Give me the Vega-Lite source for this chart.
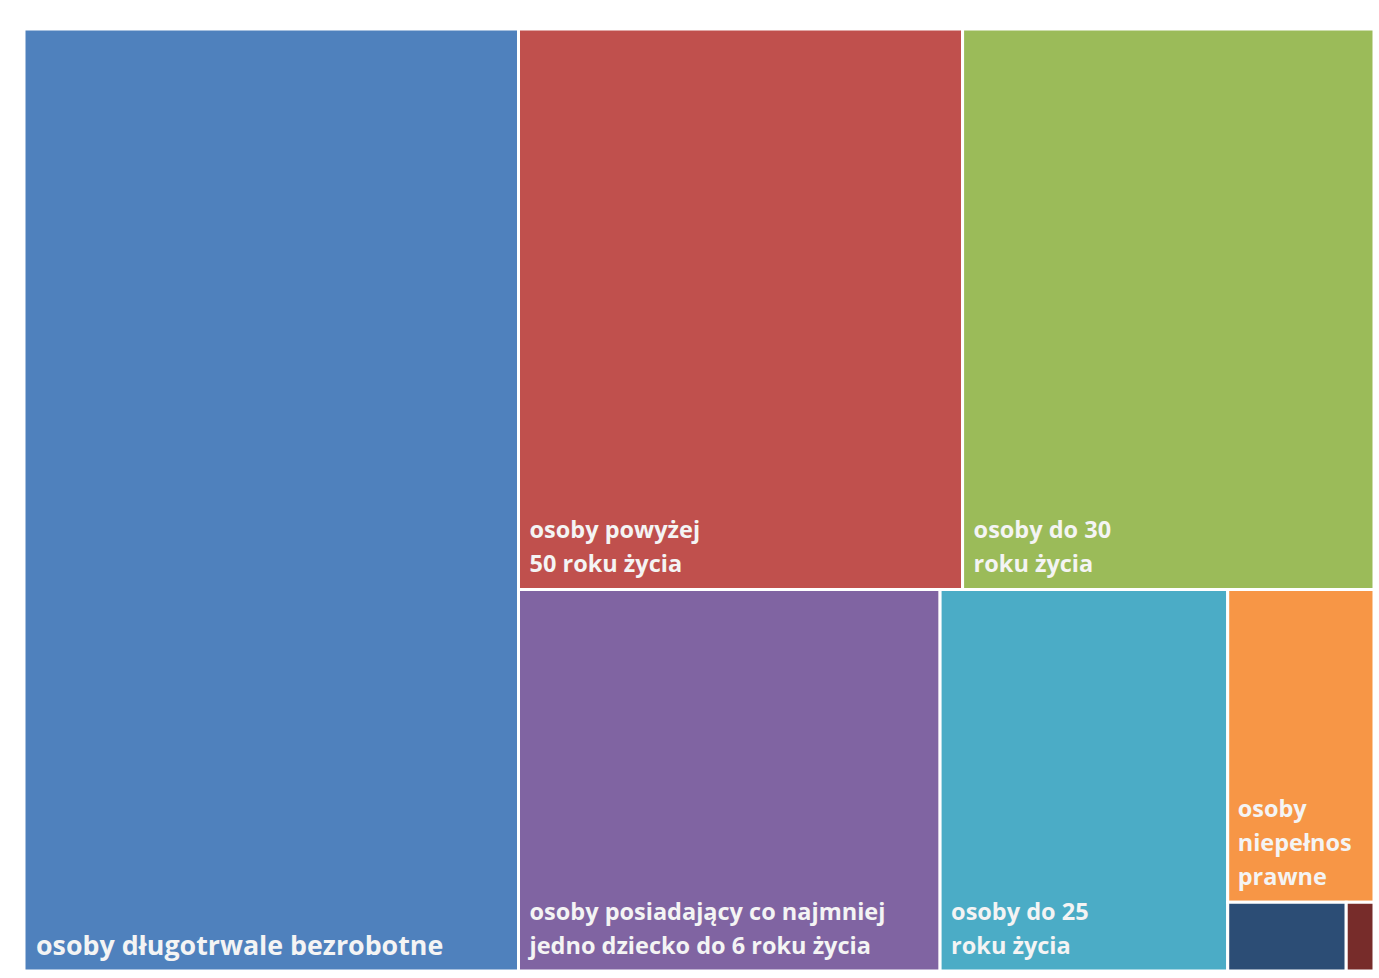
{
  "$schema": "https://vega.github.io/schema/vega-lite/v6.json",
  "width": 1350,
  "height": 942,
  "autosize": "none",
  "padding": {"left": 24, "top": 29, "right": 5, "bottom": 7},
  "background": "white",
  "config": {"view": {"stroke": null}},
  "data": {
    "values": [
      {"ord": 1, "name": "osoby długotrwale bezrobotne", "label": "osoby długotrwale bezrobotne", "lines": 1, "value": 366.3, "k1": "A", "k2": "a", "k3": "a", "k4": "a"},
      {"ord": 2, "name": "osoby powyżej 50 roku życia", "label": "osoby powyżej\n50 roku życia", "lines": 2, "value": 195.7, "k1": "B", "k2": "T", "k3": "p50", "k4": "a"},
      {"ord": 3, "name": "osoby do 30 roku życia", "label": "osoby do 30\nroku życia", "lines": 2, "value": 181.3, "k1": "B", "k2": "T", "k3": "d30", "k4": "a"},
      {"ord": 4, "name": "osoby posiadający co najmniej jedno dziecko do 6 roku życia", "label": "osoby posiadający co najmniej\njedno dziecko do 6 roku życia", "lines": 2, "value": 126.5, "k1": "B", "k2": "D", "k3": "pos", "k4": "a"},
      {"ord": 5, "name": "osoby do 25 roku życia", "label": "osoby do 25\nroku życia", "lines": 2, "value": 86.3, "k1": "B", "k2": "D", "k3": "d25", "k4": "a"},
      {"ord": 6, "name": "osoby niepełnosprawne", "label": "osoby\nniepełnos\nprawne", "lines": 3, "value": 36.0, "k1": "B", "k2": "D", "k3": "S", "k4": "n"},
      {"ord": 7, "name": "inne 1", "label": "", "lines": 0, "value": 6.4, "k1": "B", "k2": "D", "k3": "S", "k4": "U"},
      {"ord": 8, "name": "inne 2", "label": "", "lines": 0, "value": 1.5, "k1": "B", "k2": "D", "k3": "S", "k4": "U"}
    ]
  },
  "transform": [
    {"stack": "value", "groupby": [], "sort": [{"field": "ord"}], "offset": "normalize", "as": ["s1r", "e1r"]},
    {"joinaggregate": [{"op": "min", "field": "s1r", "as": "s1"}, {"op": "max", "field": "e1r", "as": "e1"}], "groupby": ["k1"]},
    {"stack": "value", "groupby": ["k1"], "sort": [{"field": "ord"}], "offset": "normalize", "as": ["s2r", "e2r"]},
    {"joinaggregate": [{"op": "min", "field": "s2r", "as": "s2"}, {"op": "max", "field": "e2r", "as": "e2"}], "groupby": ["k1", "k2"]},
    {"stack": "value", "groupby": ["k1", "k2"], "sort": [{"field": "ord"}], "offset": "normalize", "as": ["s3r", "e3r"]},
    {"joinaggregate": [{"op": "min", "field": "s3r", "as": "s3"}, {"op": "max", "field": "e3r", "as": "e3"}], "groupby": ["k1", "k2", "k3"]},
    {"stack": "value", "groupby": ["k1", "k2", "k3"], "sort": [{"field": "ord"}], "offset": "normalize", "as": ["s4r", "e4r"]},
    {"joinaggregate": [{"op": "min", "field": "s4r", "as": "s4"}, {"op": "max", "field": "e4r", "as": "e4"}], "groupby": ["k1", "k2", "k3", "k4"]},
    {"stack": "value", "groupby": ["k1", "k2", "k3", "k4"], "sort": [{"field": "ord"}], "offset": "normalize", "as": ["s5", "e5"]},
    {"calculate": "datum.s1 + (datum.e1 - datum.s1) * (datum.s3 + (datum.e3 - datum.s3) * datum.s5)", "as": "x0"},
    {"calculate": "datum.s1 + (datum.e1 - datum.s1) * (datum.s3 + (datum.e3 - datum.s3) * datum.e5)", "as": "x1"},
    {"calculate": "datum.s2 + (datum.e2 - datum.s2) * datum.s4", "as": "y0"},
    {"calculate": "datum.s2 + (datum.e2 - datum.s2) * datum.e4", "as": "y1"}
  ],
  "encoding": {
    "x": {"field": "x0", "type": "quantitative", "scale": {"domain": [0, 1], "nice": false, "zero": false}, "axis": null},
    "y": {"field": "y0", "type": "quantitative", "scale": {"domain": [0, 1], "nice": false, "zero": false, "reverse": true}, "axis": null}
  },
  "layer": [
    {
      "mark": {"type": "rect", "stroke": "white", "strokeWidth": 3},
      "encoding": {
        "x2": {"field": "x1"},
        "y2": {"field": "y1"},
        "color": {
          "field": "name",
          "type": "nominal",
          "scale": {
            "domain": [
              "osoby długotrwale bezrobotne",
              "osoby powyżej 50 roku życia",
              "osoby do 30 roku życia",
              "osoby posiadający co najmniej jedno dziecko do 6 roku życia",
              "osoby do 25 roku życia",
              "osoby niepełnosprawne",
              "inne 1",
              "inne 2"
            ],
            "range": ["#4F81BD", "#C0504D", "#9BBB59", "#8064A2", "#4BACC6", "#F79646", "#2C4D75", "#772C2A"]
          },
          "legend": null
        },
        "tooltip": [
          {"field": "name", "type": "nominal"},
          {"field": "value", "type": "quantitative"}
        ]
      }
    },
    {
      "transform": [{"filter": "datum.lines == 1"}],
      "mark": {"type": "text", "align": "left", "baseline": "alphabetic", "dx": 12, "dy": -16, "font": "Open Sans", "fontWeight": "bold", "fontSize": 26.8, "color": "#F4F4F4"},
      "encoding": {
        "y": {"field": "y1", "type": "quantitative"},
        "text": {"field": "label", "type": "nominal"}
      }
    },
    {
      "transform": [{"filter": "datum.lines == 2"}],
      "mark": {"type": "text", "align": "left", "baseline": "alphabetic", "lineBreak": "\n", "lineHeight": 34, "dx": 11, "dy": -51, "font": "Open Sans", "fontWeight": "bold", "fontSize": 23.5, "color": "#F4F4F4"},
      "encoding": {
        "y": {"field": "y1", "type": "quantitative"},
        "text": {"field": "label", "type": "nominal"}
      }
    },
    {
      "transform": [{"filter": "datum.lines == 3"}],
      "mark": {"type": "text", "align": "left", "baseline": "alphabetic", "lineBreak": "\n", "lineHeight": 34, "dx": 10, "dy": -85, "font": "Open Sans", "fontWeight": "bold", "fontSize": 23.5, "color": "#F4F4F4"},
      "encoding": {
        "y": {"field": "y1", "type": "quantitative"},
        "text": {"field": "label", "type": "nominal"}
      }
    }
  ]
}
